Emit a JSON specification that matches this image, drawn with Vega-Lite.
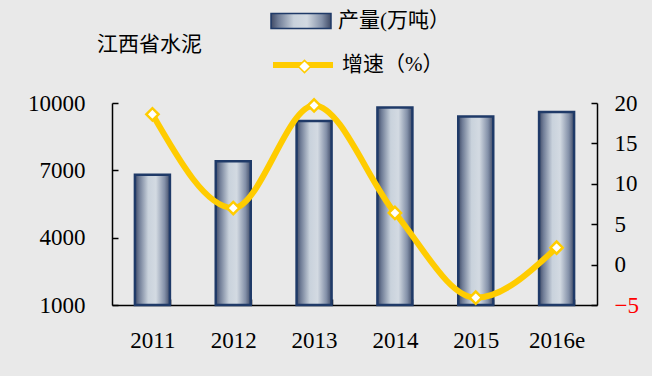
{
  "$schema": "https://vega.github.io/schema/vega-lite/v6.json",
  "width": 485,
  "height": 202,
  "autosize": {"type": "none"},
  "padding": {"left": 112, "top": 103, "right": 55, "bottom": 71},
  "background": "#E9E9E9",
  "config": {
    "font": "Liberation Serif, Noto Sans CJK SC",
    "view": {"stroke": null},
    "axis": {
      "labelFont": "Liberation Serif, Noto Sans CJK SC",
      "labelFontSize": 23,
      "labelColor": "black",
      "domainColor": "black",
      "tickColor": "black",
      "domainWidth": 1.5,
      "tickWidth": 1.5,
      "grid": false,
      "title": null
    },
    "legend": {
      "labelFont": "Liberation Serif, Noto Sans CJK SC",
      "labelFontSize": 21,
      "labelColor": "black",
      "padding": 0
    }
  },
  "title": {
    "text": "江西省水泥",
    "anchor": "start",
    "frame": "group",
    "dx": -15,
    "dy": 65,
    "offset": 0,
    "fontSize": 21,
    "fontWeight": "normal",
    "font": "Liberation Serif, Noto Sans CJK SC",
    "color": "black"
  },
  "data": {
    "values": [
      {"year": "2011", "output": 6800, "growth": 18.6},
      {"year": "2012", "output": 7400, "growth": 7.0},
      {"year": "2013", "output": 9200, "growth": 19.7},
      {"year": "2014", "output": 9800, "growth": 6.4},
      {"year": "2015", "output": 9400, "growth": -4.1},
      {"year": "2016e", "output": 9600, "growth": 2.1}
    ]
  },
  "encoding": {
    "x": {
      "field": "year",
      "type": "ordinal",
      "sort": null,
      "scale": {"paddingInner": 0.567, "paddingOuter": 0.2835},
      "axis": {
        "labelAngle": 0,
        "tickBand": "extent",
        "tickSize": -6,
        "labelPadding": 41,
        "labelBaseline": "middle"
      }
    }
  },
  "layer": [
    {
      "mark": {
        "type": "bar",
        "stroke": "#1F3A68",
        "strokeWidth": 2.5,
        "fill": {
          "gradient": "linear",
          "x1": 0, "x2": 1, "y1": 0, "y2": 0,
          "stops": [
            {"offset": 0, "color": "#3F4A66"},
            {"offset": 0.12, "color": "#6F7C96"},
            {"offset": 0.38, "color": "#C9D2DC"},
            {"offset": 0.6, "color": "#D3DAE2"},
            {"offset": 0.85, "color": "#8390A8"},
            {"offset": 1, "color": "#3F4A66"}
          ]
        }
      },
      "encoding": {
        "y": {
          "field": "output",
          "type": "quantitative",
          "scale": {"domain": [1000, 10000], "nice": false, "zero": false},
          "axis": {
            "values": [1000, 4000, 7000, 10000],
            "format": "d",
            "tickSize": -6,
            "labelPadding": 33,
            "orient": "left"
          }
        },
        "y2": {"datum": 1000},
        "opacity": {
          "datum": "产量(万吨）",
          "scale": {"range": [1]},
          "legend": {
            "title": null,
            "orient": "none",
            "legendX": 158,
            "legendY": -113,
            "symbolType": "M-1,-0.25H1V0.25H-1Z",
            "symbolSize": 3600,
            "labelOffset": 6,
            "encode": {
              "symbols": {
                "update": {
                  "fill": {"value": {
                    "gradient": "linear",
                    "x1": 0, "x2": 1, "y1": 0, "y2": 0,
                    "stops": [
                      {"offset": 0, "color": "#3F4A66"},
                      {"offset": 0.12, "color": "#6F7C96"},
                      {"offset": 0.38, "color": "#C9D2DC"},
                      {"offset": 0.6, "color": "#D3DAE2"},
                      {"offset": 0.85, "color": "#8390A8"},
                      {"offset": 1, "color": "#3F4A66"}
                    ]
                  }},
                  "stroke": {"value": "#1F3A68"},
                  "strokeWidth": {"value": 2.5},
                  "opacity": {"value": 1}
                }
              }
            }
          }
        }
      }
    },
    {
      "layer": [
        {
          "mark": {"type": "line", "interpolate": "monotone", "strokeWidth": 6, "color": "#FFCC00"},
          "encoding": {
            "y": {
              "field": "growth",
              "type": "quantitative",
              "scale": {"domain": [-5, 20], "nice": false, "zero": false},
              "axis": {
                "orient": "right",
                "values": [-5, 0, 5, 10, 15, 20],
                "tickSize": -6,
                "labelPadding": 23,
                "labelColor": {"expr": "datum.value < 0 ? 'red' : 'black'"}
              }
            },
            "color": {
              "datum": "增速（%）",
              "scale": {"range": ["#FFCC00"]},
              "legend": {
                "title": null,
                "orient": "none",
                "legendX": 158,
                "legendY": -71,
                "symbolType": "M-1,0H1",
                "symbolSize": 3600,
                "symbolStrokeWidth": 6,
                "labelOffset": 6
              }
            }
          }
        },
        {
          "mark": {"type": "point", "shape": "diamond", "filled": true, "fill": "white", "stroke": "#FFCC00", "strokeWidth": 2.5, "size": 150, "opacity": 1},
          "encoding": {
            "y": {"field": "growth", "type": "quantitative"},
            "shape": {
              "datum": "增速 ",
              "scale": {"range": ["diamond"]},
              "legend": {
                "title": null,
                "orient": "none",
                "legendX": 182,
                "legendY": -47,
                "symbolSize": 150,
                "labelExpr": "''",
                "zindex": 2,
                "encode": {
                  "symbols": {
                    "update": {
                      "fill": {"value": "white"},
                      "stroke": {"value": "#FFCC00"},
                      "strokeWidth": {"value": 2.5},
                      "opacity": {"value": 1}
                    }
                  }
                }
              }
            }
          }
        }
      ]
    }
  ],
  "resolve": {"scale": {"y": "independent"}}
}
